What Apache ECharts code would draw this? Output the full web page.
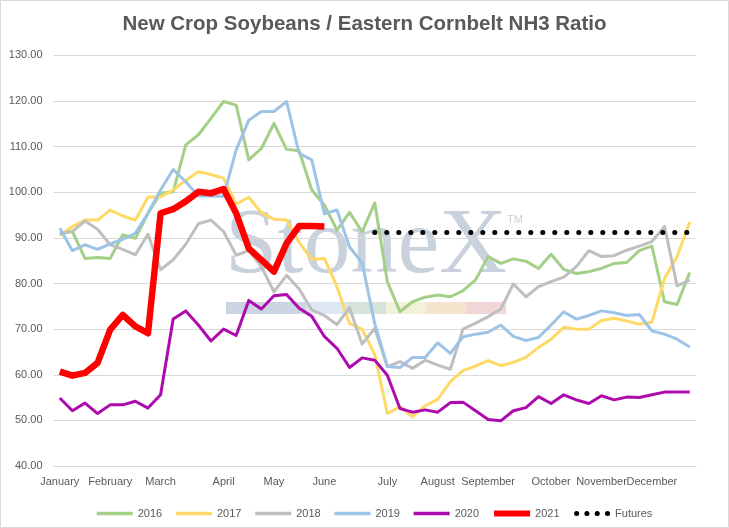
<!DOCTYPE html>
<html>
<head>
<meta charset="utf-8">
<title>New Crop Soybeans / Eastern Cornbelt NH3 Ratio</title>
<script src="https://cdn.jsdelivr.net/npm/echarts@6/dist/echarts.min.js"></script>
<style>
  html, body { margin: 0; padding: 0; background: #fff; }
  #main { width: 729px; height: 528px; }
</style>
</head>
<body>
<div id="main"></div>
<script>
// weekly points, month name on the first week of each month
var weeks = [
  'January', '', '', '', 'February', '', '', '', 'March', '', '', '', '', 'April', '', '', '',
  'May', '', '', '', 'June', '', '', '', '', 'July', '', '', '', 'August', '', '', '',
  'September', '', '', '', '', 'October', '', '', '', 'November', '', '', '', 'December', '', '', ''
];

var y2016 = [91.0, 91.4, 85.5, 85.7, 85.5, 90.7, 89.9, 95.4, 99.8, 100.1, 110.4, 112.6, 116.2, 119.9, 119.1, 107.1, 109.6,
  115.1, 109.4, 109.1, 100.5, 97.2, 91.7, 95.6, 91.3, 97.7, 80.4, 73.8, 76.0, 77.0, 77.5, 77.1, 78.4, 80.8,
  85.9, 84.4, 85.4, 84.9, 83.3, 86.4, 83.1, 82.2, 82.6, 83.3, 84.4, 84.6, 87.2, 88.2, 76.0, 75.4, 82.4];
var y2017 = [90.5, 92.5, 93.9, 93.9, 96.1, 94.8, 93.9, 98.9, 99.0, 100.5, 102.6, 104.5, 103.9, 103.1, 97.4, 98.9, 95.5,
  94.1, 93.9, 89.0, 85.3, 85.5, 79.3, 71.2, 70.0, 64.4, 51.5, 53.0, 50.8, 53.2, 54.6, 58.5, 60.9, 61.9,
  63.1, 62.0, 62.7, 63.8, 66.0, 67.8, 70.4, 70.0, 70.0, 71.9, 72.4, 71.8, 71.1, 71.5, 81.1, 85.9, 93.5];
var y2018 = [90.9, 91.4, 93.7, 91.9, 88.5, 87.5, 86.3, 90.8, 83.0, 85.2, 88.6, 93.1, 93.9, 91.4, 86.2, 87.2, 83.7,
  78.2, 81.8, 78.8, 74.2, 73.0, 71.0, 74.7, 66.7, 70.2, 61.8, 62.9, 61.4, 63.2, 62.1, 61.2, 70.0, 71.3,
  72.7, 74.4, 79.9, 77.1, 79.3, 80.4, 81.4, 83.7, 87.2, 85.9, 86.1, 87.3, 88.2, 89.2, 92.5, 79.5, 80.8];
var y2019 = [92.1, 87.2, 88.5, 87.5, 88.7, 89.7, 91.0, 95.4, 100.5, 105.0, 102.3, 99.2, 99.2, 99.1, 109.3, 115.8, 117.7,
  117.7, 119.9, 108.5, 107.1, 95.3, 96.1, 88.0, 84.5, 71.2, 61.8, 61.6, 63.8, 63.8, 67.0, 64.7, 68.3, 68.9,
  69.3, 70.9, 68.4, 67.5, 68.2, 70.9, 73.8, 72.2, 73.0, 74.0, 73.6, 73.0, 73.2, 69.6, 68.9, 67.8, 66.1];
var y2020 = [54.9, 52.1, 53.8, 51.5, 53.4, 53.4, 54.2, 52.7, 55.6, 72.2, 74.0, 70.9, 67.4, 70.0, 68.6, 76.3, 74.4,
  77.3, 77.6, 74.6, 72.8, 68.4, 65.8, 61.6, 63.7, 63.2, 59.9, 52.6, 51.8, 52.3, 51.8, 53.9, 54.0, 52.1,
  50.2, 49.9, 52.1, 52.8, 55.2, 53.7, 55.6, 54.5, 53.7, 55.4, 54.5, 55.1, 55.0, 55.6, 56.2, 56.2, 56.2];
var y2021 = [60.7, 59.8, 60.4, 62.6, 69.9, 73.1, 70.6, 69.1, 95.4, 96.3, 98.0, 100.1, 99.8, 100.7, 95.4, 87.7, 85.2,
  82.6, 88.8, 92.6, 92.6, 92.5];
var futures = [null, null, null, null, null, null, null, null, null, null, null, null, null, null, null, null, null,
  null, null, null, null, null, null, null, null, 91.2, 91.2, 91.2, 91.2, 91.2, 91.2, 91.2, 91.2, 91.2,
  91.2, 91.2, 91.2, 91.2, 91.2, 91.2, 91.2, 91.2, 91.2, 91.2, 91.2, 91.2, 91.2, 91.2, 91.2, 91.2, 91.2];

var textColor = '#595959';
var chart = echarts.init(document.getElementById('main'));

function line(name, data, color, width) {
  return {
    name: name,
    type: 'line',
    data: data,
    symbol: 'none',
    animation: false,
    lineStyle: { color: color, width: width, join: 'round' },
    itemStyle: { color: color }
  };
}

var futuresSeries = line('Futures', futures, '#000000', 5);
futuresSeries.lineStyle.type = [0.1, 11.9];
futuresSeries.lineStyle.cap = 'round';

chart.setOption({
  backgroundColor: '#ffffff',
  title: {
    text: 'New Crop Soybeans / Eastern Cornbelt NH3 Ratio',
    left: 'center',
    top: 9,
    textStyle: { color: textColor, fontSize: 20.5, fontWeight: 'bold', fontFamily: 'Liberation Sans' }
  },
  legend: {
    left: 90,
    top: 503,
    itemWidth: 36,
    itemHeight: 14,
    itemGap: 12,
    itemStyle: { opacity: 0 },
    lineStyle: { width: 3.5 },
    textStyle: { color: textColor, fontSize: 11, fontFamily: 'Liberation Sans' },
    data: [
      '2016', '2017', '2018', '2019', '2020',
      { name: '2021', lineStyle: { width: 6 } },
      { name: 'Futures', lineStyle: { width: 5, type: [0.1, 10.2], cap: 'round', dashOffset: -2.5 } }
    ]
  },
  grid: { left: 53.5, right: 33, top: 55.4, bottom: 62, containLabel: false },
  xAxis: {
    type: 'category',
    data: weeks,
    boundaryGap: true,
    axisLine: { show: true, lineStyle: { color: '#d9d9d9' } },
    axisTick: { show: false },
    axisLabel: { interval: 0, color: textColor, fontSize: 11, fontFamily: 'Liberation Sans', margin: 10 }
  },
  yAxis: {
    type: 'value',
    min: 40,
    max: 130,
    interval: 10,
    axisLine: { show: false },
    axisTick: { show: false },
    splitLine: { lineStyle: { color: '#d9d9d9', width: 1 } },
    axisLabel: {
      color: textColor, fontSize: 11, fontFamily: 'Liberation Sans', margin: 11,
      formatter: function (v) { return v.toFixed(2); }
    }
  },
  graphic: [
    { type: 'rect', shape: { x: 0.5, y: 0.5, width: 728, height: 527 }, style: { fill: 'none', stroke: '#d9d9d9', lineWidth: 1 }, z: -10 },
    // StoneX watermark
    { type: 'text', x: 225, y: 247, z: 0, style: { text: 'StoneX', font: '94px "Liberation Serif"', fill: '#c8d1dc', align: 'left', verticalAlign: 'middle' } },
    { type: 'text', x: 507, y: 214, z: 0, style: { text: 'TM', font: '11px "Liberation Sans"', fill: '#c8d1dc' } },
    { type: 'rect', z: 0, shape: { x: 226, y: 302, width: 80, height: 12 }, style: { fill: '#ccd5e1' } },
    { type: 'rect', z: 0, shape: { x: 306, y: 302, width: 41, height: 12 }, style: { fill: '#dde8f2' } },
    { type: 'rect', z: 0, shape: { x: 347, y: 302, width: 39, height: 12 }, style: { fill: '#d5e3da' } },
    { type: 'rect', z: 0, shape: { x: 386, y: 302, width: 40, height: 12 }, style: { fill: '#f4f1da' } },
    { type: 'rect', z: 0, shape: { x: 426, y: 302, width: 40, height: 12 }, style: { fill: '#f7e4cf' } },
    { type: 'rect', z: 0, shape: { x: 466, y: 302, width: 40, height: 12 }, style: { fill: '#f1d6d7' } }
  ],
  series: [
    line('2016', y2016, '#a3cf86', 3),
    line('2017', y2017, '#ffd966', 3),
    line('2018', y2018, '#bfbfbf', 3),
    line('2019', y2019, '#9dc3e6', 3),
    line('2020', y2020, '#ad0bad', 3),
    line('2021', y2021, '#ff0000', 6.5),
    futuresSeries
  ]
});
</script>
</body>
</html>
